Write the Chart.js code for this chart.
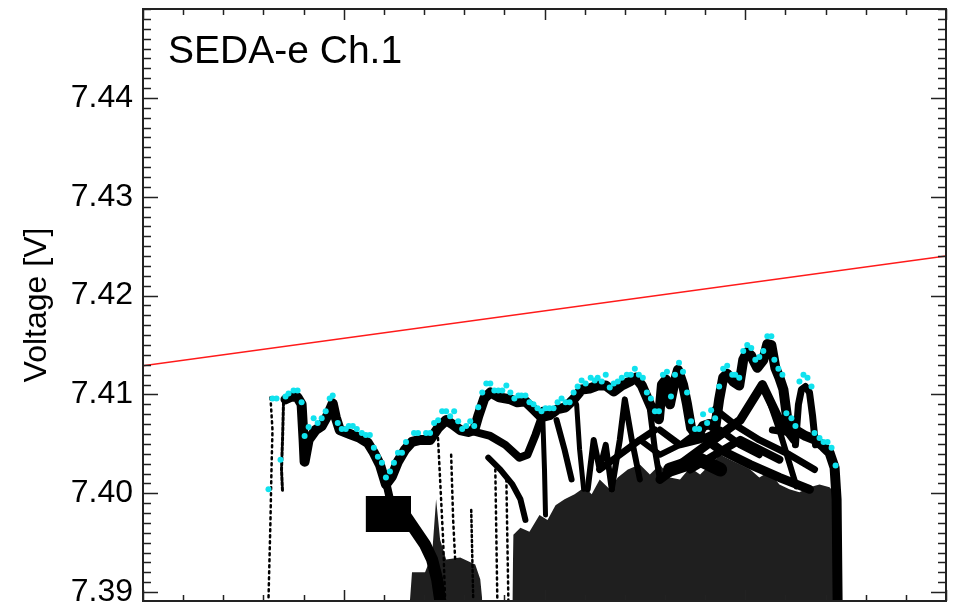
<!DOCTYPE html>
<html>
<head>
<meta charset="utf-8">
<script src="https://cdn.jsdelivr.net/npm/chart.js@4.4.1/dist/chart.umd.min.js"></script>
<style>
  html, body { margin: 0; padding: 0; background: #fff; }
  #wrap { width: 955px; height: 605px; position: relative; }
</style>
</head>
<body>
<div id="wrap"><canvas id="c"></canvas></div>
<script>
// ── Data ──────────────────────────────────────────────────────
const chartTitle = 'SEDA-e Ch.1';
const yTitle     = 'Voltage [V]';
const yMajor     = [7.39, 7.40, 7.41, 7.42, 7.43, 7.44];
const xMajor     = [0, 200, 400, 600, 800];
const yRange     = [7.3891, 7.4490];
const xRange     = [0, 800];

// red reference line
const fitLine = [[0, 7.4129], [800, 7.4240]];

// cyan upper-envelope samples
const peaks = [
  [125,7.4004],[129,7.4096],[133,7.4096],[137,7.4034],[142,7.4098],[145,7.4101],[150,7.4104],[154,7.4104],
  [158,7.4092],[161,7.4058],[165,7.4067],[170,7.4076],[174,7.4071],[178,7.4076],[182,7.4083],[186,7.4096],
  [189,7.4099],[194,7.4071],[198,7.4065],[202,7.4065],[205,7.4068],[209,7.4068],[213,7.4065],[218,7.4061],
  [222,7.4059],[226,7.4059],[230,7.4046],[234,7.4037],[238,7.4031],[242,7.4016],[246,7.4022],[250,7.4031],
  [254,7.4041],[258,7.4041],[262,7.4052],[270,7.4061],[274,7.4061],[282,7.4061],[286,7.4061],[290,7.4071],
  [294,7.4074],[298,7.4083],[302,7.4083],[306,7.4078],[310,7.4083],[314,7.4073],[318,7.4065],[322,7.4068],
  [326,7.4073],[330,7.4068],[334,7.4087],[338,7.4102],[342,7.4111],[346,7.4111],[350,7.4104],[354,7.4104],
  [358,7.4104],[362,7.4109],[366,7.4102],[370,7.4096],[374,7.4099],[377,7.4099],[381,7.4099],[385,7.4092],
  [389,7.4090],[393,7.4086],[397,7.4083],[401,7.4086],[405,7.4086],[409,7.4086],[413,7.4092],[417,7.4096],
  [421,7.4092],[425,7.4092],[429,7.4102],[433,7.4108],[437,7.4114],[441,7.4111],[446,7.4117],[450,7.4114],
  [453,7.4117],[457,7.4113],[461,7.4120],[465,7.4107],[469,7.4111],[473,7.4113],[477,7.4117],[482,7.4120],
  [486,7.4120],[490,7.4126],[494,7.4120],[498,7.4117],[502,7.4102],[506,7.4096],[510,7.4083],[514,7.4083],
  [518,7.4120],[522,7.4123],[526,7.4098],[530,7.4120],[534,7.4132],[538,7.4123],[542,7.4102],[546,7.4073],
  [550,7.4065],[554,7.4065],[558,7.4080],[562,7.4071],[566,7.4084],[570,7.4076],[574,7.4108],[578,7.4126],
  [582,7.4129],[587,7.4120],[590,7.4120],[594,7.4117],[598,7.4144],[602,7.4150],[606,7.4147],[610,7.4135],
  [614,7.4138],[618,7.4144],[622,7.4159],[626,7.4159],[629,7.4135],[633,7.4126],[637,7.4120],[641,7.4081],
  [646,7.4076],[650,7.4068],[654,7.4113],[658,7.4120],[662,7.4117],[666,7.4108],[669,7.4061],[674,7.4056],
  [678,7.4052],[682,7.4052],[686,7.4046],[690,7.4028]
];

// dense black point tracks (centre lines)
const bandMain = [
  [142,7.4095],[148,7.4098],[154,7.4097],[158,7.4090],[160,7.4054],[161,7.4032],[165,7.4054],[172,7.4064],
  [178,7.4068],[184,7.4079],[189,7.4091],[192,7.4077],[196,7.4064],[206,7.4060],[216,7.4056],[224,7.4051],
  [230,7.4041],[236,7.4029],[242,7.4009],[248,7.4017],[254,7.4032],[261,7.4044],[268,7.4052],[276,7.4054],
  [286,7.4054],[294,7.4066],[302,7.4074],[308,7.4070],[316,7.4064],[324,7.4062],[330,7.4064],[334,7.4078],
  [340,7.4096],[346,7.4102],[355,7.4097],[366,7.4095],[373,7.4092],[381,7.4093],[389,7.4085],[397,7.4077],
  [405,7.4079],[413,7.4085],[421,7.4087],[429,7.4095],[437,7.4105],[445,7.4106],[453,7.4109],[461,7.4109],
  [469,7.4103],[477,7.4109],[485,7.4113],[491,7.4117],[497,7.4109],[503,7.4095],[509,7.4081],[514,7.4075],
  [517,7.4110],[521,7.4115],[525,7.4090],[529,7.4110],[533,7.4125],[538,7.4110],[542,7.4090],[546,7.4066],
  [552,7.4058],[558,7.4068],[564,7.4070],[570,7.4066],[574,7.4095],[578,7.4117],[582,7.4121],[588,7.4113],
  [594,7.4109],[598,7.4135],[602,7.4143],[606,7.4139],[612,7.4127],[618,7.4135],[622,7.4151],[626,7.4150],
  [630,7.4127],[634,7.4117],[638,7.4105],[642,7.4074],[650,7.4064],[660,7.4058],[670,7.4054],[678,7.4047],
  [684,7.4041],[689,7.4026],[691,7.3994],[692,7.3892]
];
const bandSpike = [[650,7.4049],[653,7.4090],[656,7.4105],[660,7.4108],[664,7.4102],[667,7.4079],[670,7.4049]];
const bandA  = [[331,7.4062],[346,7.4058],[361,7.4049],[375,7.4036],[383,7.4039],[391,7.4059],[398,7.4079]];
const bandB  = [[344,7.4036],[356,7.4024],[368,7.4009],[376,7.3994],[381,7.3973]];
const bandC  = [[398,7.4085],[400,7.4024],[401,7.3978]];
const bandD  = [[432,7.4090],[435,7.4044],[439,7.4004]];
const bandE  = [[443,7.4004],[449,7.4054],[455,7.4024],[461,7.4049],[467,7.4004]];
const bandF  = [[467,7.4004],[475,7.4054],[480,7.4095],[487,7.4054],[495,7.4014]];
const bandG  = [[505,7.4085],[510,7.4044],[515,7.4014]];
const bandH  = [[515,7.4014],[555,7.4044],[595,7.4074],[617,7.4110],[634,7.4074],[649,7.4054]];
const bandI  = [[548,7.4064],[575,7.4044],[605,7.4029],[634,7.4016],[664,7.4004]];
const bandJ  = [[570,7.4085],[590,7.4069],[614,7.4054],[644,7.4039],[669,7.4024]];
const bandL  = [[412,7.4074],[420,7.4044],[427,7.4014]];
const bandN  = [[495,7.4054],[515,7.4039],[535,7.4049],[555,7.4064],[570,7.4074]];
const bandP  = [[621,7.4102],[634,7.4064],[651,7.4007]];
const bandQ  = [[627,7.4064],[647,7.4061],[667,7.4057],[682,7.4044]];
const bandR  = [[525,7.4024],[555,7.4034],[575,7.4024]];
const bandS  = [[455,7.4024],[475,7.4039],[495,7.4054],[510,7.4064]];
const bandT  = [[515,7.4064],[535,7.4049],[555,7.4054],[575,7.4064],[595,7.4049],[614,7.4039]];
const bandU  = [[545,7.4024],[595,7.4054],[634,7.4034]];
const bandX  = [[242,7.4012],[246,7.3994]];
const bandK  = [[261,7.3978],[271,7.3963],[281,7.3948],[288,7.3933],[293,7.3913],[296,7.3892]];
const block1 = [[222,7.3979],[267,7.3979]];

// sparse dotted columns
const dots1 = [[127,7.4097],[129,7.4064],[128,7.4024],[127,7.3973],[125,7.3892]];
const dots2 = [[140,7.4092],[139,7.4054],[138,7.4024],[139,7.4002]];
const dots3 = [[293,7.4074],[296,7.4014],[299,7.3953],[301,7.3892]];
const dots4 = [[307,7.4039],[309,7.3973],[311,7.3933]];
const dots5 = [[327,7.3983],[329,7.3892]];
const dots6 = [[351,7.4024],[353,7.3892]];
const dots7 = [[362,7.4014],[364,7.3892]];

// top edges of the solid lower mass
const massLeft = [
  [266,7.3892],[268,7.3920],[281,7.3920],[288,7.3938],[292,7.3994],[296,7.3953],[302,7.3933],[316,7.3935],
  [331,7.3928],[336,7.3913],[338,7.3892]
];
const massRight = [
  [368,7.3892],[369,7.3958],[376,7.3965],[385,7.3961],[395,7.3978],[403,7.3973],[411,7.3988],[420,7.3994],
  [430,7.3999],[440,7.4006],[447,7.3999],[455,7.4014],[465,7.4004],[473,7.4016],[483,7.4024],[495,7.4029],
  [505,7.4019],[515,7.4029],[525,7.4016],[535,7.4014],[545,7.4026],[555,7.4019],[565,7.4029],[575,7.4039],
  [585,7.4034],[595,7.4029],[605,7.4024],[614,7.4016],[624,7.4022],[634,7.4009],[644,7.4004],[654,7.4001],
  [664,7.4006],[674,7.4009],[684,7.4006],[690,7.3999],[692,7.3892]
];

// ── Helpers ───────────────────────────────────────────────────
const pts = a => a.map(([x, y]) => ({ x, y }));
const FONT = '"Liberation Sans", Arial, sans-serif';

function track(data, width, dash) {
  return {
    type: 'line', data: pts(data), order: 5,
    borderColor: '#000', borderWidth: width, borderDash: dash || [],
    borderCapStyle: 'round', borderJoinStyle: 'round',
    pointRadius: 0, tension: 0, fill: false,
  };
}
function mass(data) {
  return {
    type: 'line', data: pts(data), order: 6,
    borderWidth: 0, pointRadius: 0, tension: 0,
    backgroundColor: 'rgba(0,0,0,0.88)', fill: 'start',
  };
}

const frame = {
  id: 'frame',
  afterDraw(chart) {
    const { ctx, chartArea: a, scales: { x, y } } = chart;
    ctx.save();
    ctx.strokeStyle = '#222';
    ctx.lineWidth = 1.5;
    ctx.beginPath();
    for (let i = 7390; i < 7450; i++) {
      const py = Math.round(y.getPixelForValue(i / 1000)) + 0.5;
      const len = i % 10 === 0 ? 15 : 8;
      ctx.moveTo(a.left, py);  ctx.lineTo(a.left + len, py);
      ctx.moveTo(a.right, py); ctx.lineTo(a.right - len, py);
    }
    for (let i = 0; i <= 20; i++) {
      const px = Math.round(x.getPixelForValue(i * 40)) + 0.5;
      const len = i % 5 === 0 ? 11 : 6;
      ctx.moveTo(px, a.top);    ctx.lineTo(px, a.top + len);
      ctx.moveTo(px, a.bottom); ctx.lineTo(px, a.bottom - len);
    }
    ctx.stroke();
    ctx.lineWidth = 2;
    ctx.strokeRect(a.left, a.top, a.right - a.left, a.bottom - a.top);

    ctx.fillStyle = '#000';
    ctx.font = `39px ${FONT}`;
    ctx.textBaseline = 'alphabetic';
    ctx.fillText(chartTitle, a.left + 25, 63);
    ctx.restore();
  }
};

new Chart(document.getElementById('c'), {
  data: {
    datasets: [
      {
        type: 'scatter', data: pts(peaks), order: 0,
        pointRadius: 3, pointBorderWidth: 0, pointBackgroundColor: '#10e2ee',
      },
      {
        type: 'line', data: pts(fitLine), order: 1,
        borderColor: '#ff1a1a', borderWidth: 1.5, pointRadius: 0, fill: false,
      },
      track(bandMain, 10),
      track(bandSpike, 7),
      track(bandA, 8),
      track(bandB, 6),
      track(bandC, 5),
      track(bandD, 5),
      track(bandE, 6),
      track(bandF, 6),
      track(bandG, 6),
      track(bandH, 9),
      track(bandI, 9),
      track(bandJ, 7),
      track(bandL, 6),
      track(bandN, 6),
      track(bandP, 6),
      track(bandQ, 7),
      track(bandR, 14),
      track(bandS, 7),
      track(bandT, 7),
      track(bandU, 8),
      track(bandX, 8),
      track(bandK, 12),
      { ...track(block1, 36), borderCapStyle: 'butt' },
      track(dots1, 2.5, [2, 4]),
      track(dots2, 3, [3, 2]),
      track(dots3, 2.5, [2, 4]),
      track(dots4, 2.5, [2, 4]),
      track(dots5, 2.5, [2, 3]),
      track(dots6, 2.5, [2, 4]),
      track(dots7, 2.5, [2, 4]),
      mass(massLeft),
      mass(massRight),
    ]
  },
  options: {
    responsive: true,
    maintainAspectRatio: false,
    animation: false,
    devicePixelRatio: 1,
    layout: { padding: { top: 9, right: 9, bottom: 4, left: 0 } },
    plugins: { legend: { display: false }, tooltip: { enabled: false } },
    scales: {
      x: { type: 'linear', display: false, min: xRange[0], max: xRange[1] },
      y: {
        type: 'linear', min: yRange[0], max: yRange[1],
        afterBuildTicks: s => { s.ticks = yMajor.map(v => ({ value: v })); },
        afterFit: s => { s.width = 143; s.paddingTop = 0; s.paddingBottom = 0; },
        grid: { display: false, drawTicks: false },
        border: { display: false },
        ticks: {
          color: '#000', padding: 10,
          font: { family: FONT, size: 32 },
          callback: v => v.toFixed(2),
        },
        title: {
          display: true, text: yTitle, color: '#000',
          font: { family: FONT, size: 32 },
          padding: { top: 18, bottom: 0 },
        },
      },
    },
  },
  plugins: [frame],
});
</script>
</body>
</html>
